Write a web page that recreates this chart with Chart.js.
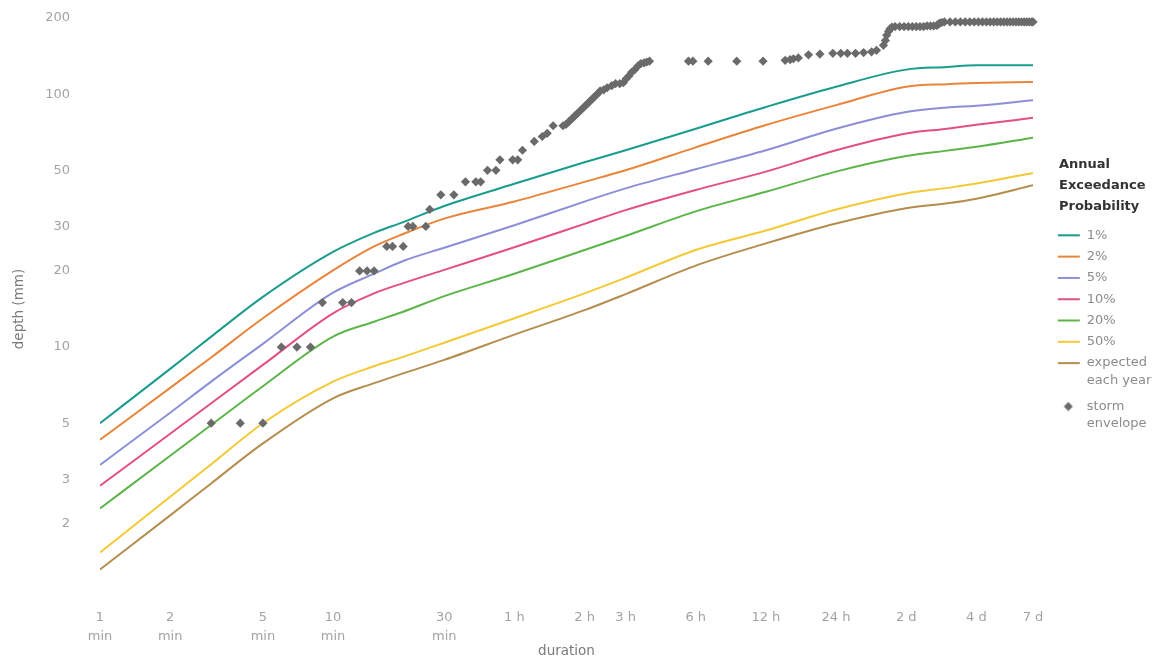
<!DOCTYPE html>
<html>
<head>
<meta charset="utf-8">
<script src="https://cdn.jsdelivr.net/npm/chart.js@4.4.1/dist/chart.umd.min.js"></script>
<style>
  html, body { margin: 0; padding: 0; background: #ffffff; }
  canvas { display: block; }
</style>
</head>
<body>
<canvas id="chart" width="1164" height="664"></canvas>
<script>
// ---------- DATA ----------
const durations = [1, 2, 3, 5, 10, 15, 20, 30, 60, 120, 180, 360, 720, 1440, 2880, 4320, 5760, 10080];

const aep1     = [5.0, 8.2, 11.0, 15.8, 23.8, 28.3, 31.2, 36.1, 44.2, 53.8, 60.0, 73.0, 89.0, 107, 125, 128, 130, 130];
const aep2     = [4.3, 6.9, 9.1, 13.0, 20.1, 25.0, 28.0, 32.2, 37.6, 45.0, 50.0, 61.6, 75.5, 90.5, 107, 109.5, 110.6, 111.7];
const aep5     = [3.42, 5.5, 7.3, 10.3, 16.4, 19.5, 21.9, 24.7, 30.3, 37.6, 42.4, 50.5, 60.0, 73.0, 85.0, 88.5, 90.0, 94.5];
const aep10    = [2.83, 4.54, 6.0, 8.5, 13.6, 16.3, 17.9, 20.2, 24.8, 30.7, 34.8, 41.8, 49.4, 60.0, 69.9, 73.0, 75.6, 80.6];
const aep20    = [2.30, 3.72, 4.92, 7.0, 11.0, 12.6, 13.8, 15.9, 19.5, 24.2, 27.5, 34.4, 41.1, 49.4, 56.9, 59.8, 61.9, 67.3];
const aep50    = [1.54, 2.56, 3.44, 5.0, 7.3, 8.4, 9.15, 10.4, 13.0, 16.3, 18.8, 24.2, 28.9, 35.0, 40.5, 42.6, 44.3, 48.8];
const expected = [1.32, 2.16, 2.89, 4.16, 6.27, 7.2, 7.87, 8.9, 11.2, 14.0, 16.2, 21.0, 25.7, 30.8, 35.4, 37.0, 38.6, 43.6];

const stormDur = [3, 4, 5, 6, 7, 8, 9, 11, 12, 13, 14, 15, 17, 18, 20, 21, 22, 25, 26, 29, 33, 37, 41, 43, 46, 50,
  52, 59, 62, 65, 73, 79, 83, 88, 97,
  100, 103, 106, 109, 112, 115, 118, 121, 124, 127, 130, 133, 136, 140,
  145, 150, 157, 163, 170, 176, 181, 186, 191, 197, 203, 209, 216, 222, 228,
  335, 350, 407, 540, 700,
  871, 915, 945, 992, 1097, 1228, 1395, 1509, 1611, 1746, 1891, 2045, 2148,
  2300, 2345, 2375, 2420, 2453, 2500,
  2580, 2700, 2820, 2940, 3060, 3180, 3300, 3420, 3540, 3660, 3780, 3900,
  3960, 4020, 4100,
  4200, 4440, 4680, 4920, 5160, 5400, 5640, 5880, 6120, 6360, 6600, 6840, 7080, 7320, 7560, 7800,
  8040, 8280, 8520, 8760, 9000, 9240, 9480, 9720, 9960, 10080];
const stormDepth = [5, 5, 5, 10, 10, 10, 15, 15, 15, 20, 20, 20, 25, 25, 25, 30, 30, 30, 35, 40, 40, 45, 45, 45, 50, 50,
  55, 55, 55, 60, 65, 68, 70, 75, 75,
  76, 78, 80, 82, 84, 86, 88, 90, 92, 94, 96, 98, 100, 103,
  104, 106, 108, 110, 110, 111, 115, 118, 122, 125, 129, 132, 133, 134, 135,
  135, 135, 135, 135, 135,
  136, 137, 138, 139, 143, 144, 145, 145, 145, 145, 146, 147, 149,
  156, 163, 171, 177, 181, 184,
  185, 185, 185, 185, 185, 185, 185, 185, 186, 186, 186, 187,
  189, 191, 192,
  193, 193, 193, 193, 193, 193, 193, 193, 193, 193, 193, 193, 193, 193, 193, 193,
  193, 193, 193, 193, 193, 193, 193, 193, 193, 193];

const seriesNames = ['1%', '2%', '5%', '10%', '20%', '50%', 'expected each year'];
const legendTexts = ['1%', '2%', '5%', '10%', '20%', '50%', ['expected', 'each year'], ['storm', 'envelope']];
const legendHeading = ['Annual', 'Exceedance', 'Probability'];

const xTickValues = [1, 2, 5, 10, 30, 60, 120, 180, 360, 720, 1440, 2880, 5760, 10080];
const xTickLabels = [['1', 'min'], ['2', 'min'], ['5', 'min'], ['10', 'min'], ['30', 'min'],
  '1 h', '2 h', '3 h', '6 h', '12 h', '24 h', '2 d', '4 d', '7 d'];
const yTickValues = [2, 3, 5, 10, 20, 30, 50, 100, 200];

// ---------- STYLE ----------
const FONT = '"DejaVu Sans", Verdana, sans-serif';
const seriesColors = ['#1a9c8c', '#e9843b', '#8b8fd8', '#e2507f', '#5cb548', '#f3c935', '#b58d4d'];
const stormColor = '#6a6a6a';
const LEGEND_WIDTH = 131;

const seriesValues = [aep1, aep2, aep5, aep10, aep20, aep50, expected];

function lineSwatch(color) {
  const c = document.createElement('canvas');
  c.width = 40; c.height = 6;
  const g = c.getContext('2d');
  g.strokeStyle = color; g.lineWidth = 2;
  g.beginPath(); g.moveTo(17, 3); g.lineTo(39, 3); g.stroke();
  return c;
}
function diamondSwatch(color) {
  const c = document.createElement('canvas');
  c.width = 40; c.height = 10;
  const g = c.getContext('2d');
  g.fillStyle = color;
  g.beginPath();
  g.moveTo(27.5, 0.5); g.lineTo(32, 5); g.lineTo(27.5, 9.5); g.lineTo(23, 5); g.closePath();
  g.fill();
  return c;
}
const legendSwatches = seriesColors.map(lineSwatch).concat([diamondSwatch(stormColor)]);

const datasets = seriesValues.map((vals, i) => ({
  label: seriesNames[i],
  data: durations.map((d, k) => ({ x: d, y: vals[k] })),
  borderColor: seriesColors[i],
  backgroundColor: seriesColors[i],
  borderWidth: 2,
  pointRadius: 0,
  pointHoverRadius: 0,
  fill: false,
  cubicInterpolationMode: 'monotone'
}));
datasets.push({
  label: 'storm envelope',
  data: stormDur.map((d, k) => ({ x: d, y: stormDepth[k] })),
  showLine: false,
  pointStyle: 'rectRot',
  pointRadius: 4.6,
  pointHoverRadius: 4.6,
  backgroundColor: stormColor,
  borderColor: stormColor,
  borderWidth: 0,
  order: -1,
  clip: false
});

const legendWidthPlugin = {
  id: 'legendWidth',
  beforeLayout(chart) {
    const lg = chart.legend;
    if (lg && !lg.__fixedWidth) {
      const fit = lg.fit;
      lg.fit = function () { fit.call(this); this.width = LEGEND_WIDTH; };
      lg.__fixedWidth = true;
    }
  }
};
const headingPlugin = {
  id: 'aepHeading',
  afterDraw(chart) {
    const lg = chart.legend;
    if (!lg) return;
    const ctx = chart.ctx;
    ctx.save();
    ctx.font = 'bold 13px ' + FONT;
    ctx.fillStyle = '#333333';
    ctx.textAlign = 'left';
    ctx.textBaseline = 'middle';
    legendHeading.forEach((t, i) => ctx.fillText(t, lg.left + 26, lg.top + 147 + i * 21));
    ctx.restore();
  }
};

Chart.defaults.font.family = FONT;

new Chart(document.getElementById('chart'), {
  type: 'line',
  data: { datasets },
  plugins: [legendWidthPlugin, headingPlugin],
  options: {
    responsive: false,
    animation: false,
    devicePixelRatio: 1,
    layout: { padding: { top: 18, right: 0, bottom: 0, left: 0 } },
    plugins: {
      tooltip: { enabled: false },
      legend: {
        position: 'right',
        align: 'start',
        title: {
          display: true,
          text: '',
          font: { size: 13, lineHeight: 1.6 },
          padding: { top: 140, bottom: 41.7 }
        },
        labels: {
          usePointStyle: true,
          pointStyleWidth: 39,
          padding: 8.3,
          color: '#8c8c8c',
          font: { family: FONT, size: 13, lineHeight: 1.35 },
          generateLabels(chart) {
            return chart.data.datasets.map((ds, i) => ({
              text: legendTexts[i],
              fillStyle: ds.backgroundColor,
              strokeStyle: ds.borderColor,
              lineWidth: 0,
              pointStyle: legendSwatches[i],
              hidden: false,
              datasetIndex: i,
              fontColor: '#8c8c8c'
            }));
          }
        }
      }
    },
    scales: {
      x: {
        type: 'logarithmic',
        min: 1,
        max: 10080,
        grid: { display: false, drawTicks: false },
        border: { display: false },
        afterBuildTicks(scale) { scale.ticks = xTickValues.map(v => ({ value: v })); },
        afterFit(scale) { scale.height = 64; },
        ticks: {
          autoSkip: false,
          maxRotation: 0,
          minRotation: 0,
          padding: 8.5,
          color: '#a3a3a3',
          font: { family: FONT, size: 13, lineHeight: 1.46 },
          callback(value) {
            const i = xTickValues.indexOf(value);
            return i >= 0 ? xTickLabels[i] : '';
          }
        },
        title: {
          display: true,
          text: 'duration',
          color: '#7a7a7a',
          font: { family: FONT, size: 13.5 },
          padding: { top: 0, bottom: 4 }
        }
      },
      y: {
        type: 'logarithmic',
        min: 1,
        max: 200,
        grid: { display: false, drawTicks: true, tickLength: 27 },
        border: { display: false },
        afterBuildTicks(scale) { scale.ticks = yTickValues.map(v => ({ value: v })); },
        afterFit(scale) { scale.width = 100; },
        ticks: {
          padding: 3,
          color: '#a3a3a3',
          font: { family: FONT, size: 13 },
          callback(value) { return String(value); }
        },
        title: {
          display: true,
          text: 'depth (mm)',
          color: '#7a7a7a',
          font: { family: FONT, size: 13.5 },
          padding: { top: 11, bottom: 0 }
        }
      }
    }
  }
});
</script>
</body>
</html>
